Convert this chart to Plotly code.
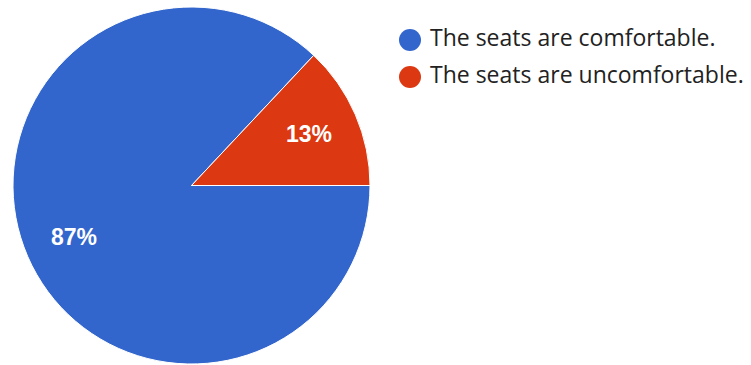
import math
import plotly.graph_objects as go

# Survey answers and their shares of respondents
labels = ["The seats are comfortable.", "The seats are uncomfortable."]
shares = [87, 13]
colors = ["#3366CC", "#DC3912"]

W, H = 751, 365

# Pie placement in pixels (centre and radius)
pie_cx, pie_cy, pie_r = 191.5, 185.5, 178.5
label_radius = 0.72

fig = go.Figure(
    go.Pie(
        labels=labels,
        values=shares,
        sort=False,
        direction="clockwise",
        rotation=90,
        marker=dict(colors=colors, line=dict(color="white", width=1)),
        textinfo="none",
        hoverinfo="label+percent",
        showlegend=False,
        domain=dict(
            x=[(pie_cx - pie_r) / W, (pie_cx + pie_r) / W],
            y=[1 - (pie_cy + pie_r) / H, 1 - (pie_cy - pie_r) / H],
        ),
    )
)

annotations = []

# Percentage labels at the middle angle of each slice
total = sum(shares)
cum = 0.0
for v in shares:
    mid = (cum + v / 2) / total  # fraction of the turn, clockwise from 3 o'clock
    cum += v
    ang = 2 * math.pi * mid
    px = pie_cx + label_radius * pie_r * math.cos(ang)
    py = pie_cy + label_radius * pie_r * math.sin(ang)
    annotations.append(dict(
        text=f"{round(100 * v / total)}%", xref="paper", yref="paper",
        x=px / W, y=1 - py / H, xanchor="center", yanchor="middle",
        showarrow=False,
        font=dict(family="Liberation Sans", size=23, color="white", weight="bold"),
    ))

# Legend drawn as round swatches with the category names beside them
legend_x = 410
legend_y0 = 40
legend_step = 37
swatch_r = 11
shapes = []
for i, (name, col) in enumerate(zip(labels, colors)):
    cy = legend_y0 + i * legend_step
    shapes.append(dict(
        type="circle", xref="paper", yref="paper",
        x0=(legend_x - swatch_r) / W, x1=(legend_x + swatch_r) / W,
        y0=1 - (cy + swatch_r) / H, y1=1 - (cy - swatch_r) / H,
        fillcolor=col, line=dict(width=0),
    ))
    annotations.append(dict(
        text=name, xref="paper", yref="paper",
        x=428 / W, y=1 - (cy - 3) / H, xanchor="left", yanchor="middle",
        showarrow=False,
        font=dict(family="Open Sans", size=23, color="#222222"),
    ))

fig.update_layout(
    width=W, height=H,
    margin=dict(l=0, r=0, t=0, b=0),
    paper_bgcolor="white",
    plot_bgcolor="white",
    shapes=shapes,
    annotations=annotations,
)

fig.write_html("out.html")
